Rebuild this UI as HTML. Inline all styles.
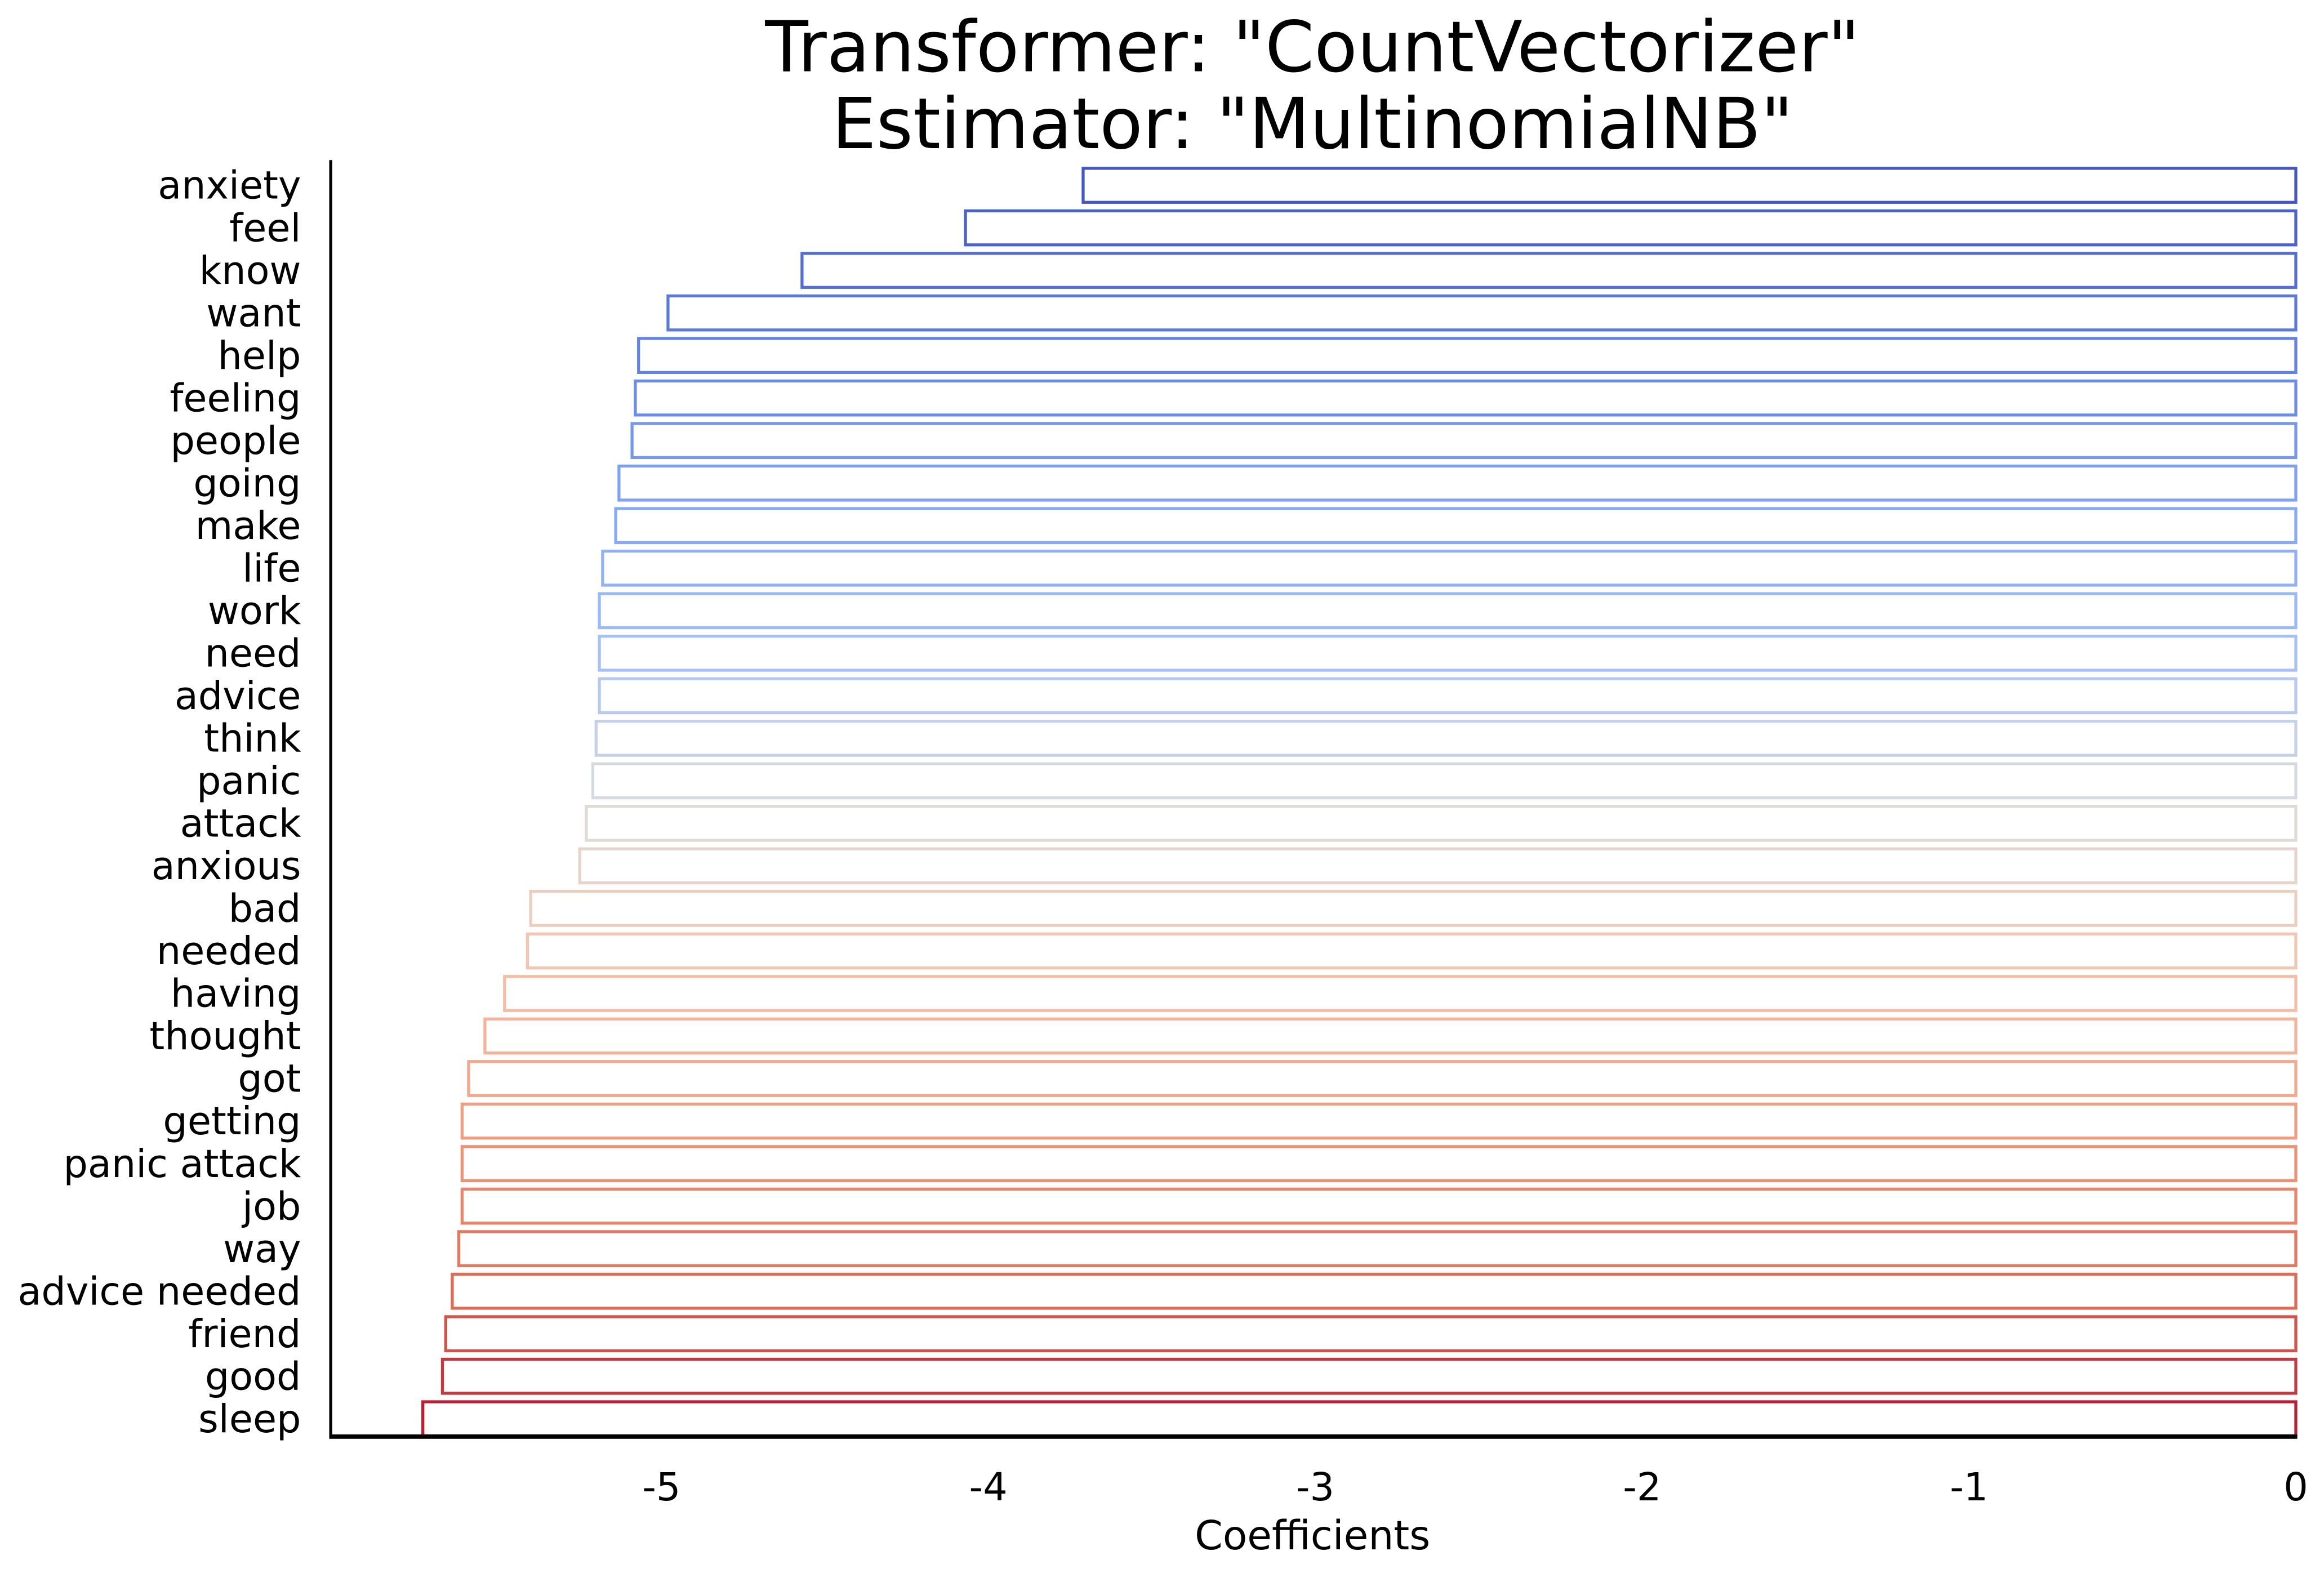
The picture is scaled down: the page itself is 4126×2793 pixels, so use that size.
<!DOCTYPE html>
<html><head><meta charset="utf-8"><style>
html,body{margin:0;padding:0;background:#fff}
svg{display:block}
text{font-family:"DejaVu Sans","Liberation Sans",sans-serif;fill:#000}
</style></head><body>
<svg id="chart" width="4126" height="2793" viewBox="0 0 1567 1061" preserveAspectRatio="none" xmlns="http://www.w3.org/2000/svg">
<rect width="1567" height="1061" fill="#fff"/>
<text x="885" y="48" font-size="47.5" text-anchor="middle">Transformer: "CountVectorizer"</text>
<text x="885" y="100" font-size="47.5" text-anchor="middle">Estimator: "MultinomialNB"</text>
<g id="bars"></g>
<g id="yticks"></g>
<g id="xticks"></g>
<line x1="223" y1="108" x2="223" y2="970" stroke="#000" stroke-width="2"/>
<line x1="222" y1="969" x2="1549" y2="969" stroke="#000" stroke-width="3"/>
<text x="885" y="1045" font-size="27" text-anchor="middle">Coefficients</text>
</svg>
<script>
const categories = ["anxiety","feel","know","want","help","feeling","people","going","make","life","work","need","advice","think","panic","attack","anxious","bad","needed","having","thought","got","getting","panic attack","job","way","advice needed","friend","good","sleep"];
const coefficients = [-3.71,-4.07,-4.57,-4.98,-5.07,-5.08,-5.09,-5.13,-5.14,-5.18,-5.19,-5.19,-5.19,-5.20,-5.21,-5.23,-5.25,-5.40,-5.41,-5.48,-5.54,-5.59,-5.61,-5.61,-5.61,-5.62,-5.64,-5.66,-5.67,-5.73];
const xTickValues = [-5,-4,-3,-2,-1,0];
const xTickLabels = ["-5","-4","-3","-2","-1","0"];

const NS = "http://www.w3.org/2000/svg";
const xScale = v => 1548 + v * 220.4;
const rowStep = (957 - 125) / 29;
const yScale = i => 125 + i * rowStep;
const stops = [[0,[59,76,192]],[0.125,[89,119,227]],[0.25,[123,159,249]],[0.375,[158,190,255]],[0.5,[221,221,221]],[0.625,[245,196,172]],[0.75,[244,154,123]],[0.875,[226,105,82]],[1,[180,4,38]]];
function coolwarm(t){
  for(let k=0;k<stops.length-1;k++){
    const a=stops[k],b=stops[k+1];
    if(t<=b[0]){const f=(t-a[0])/(b[0]-a[0]);
      return "rgb("+a[1].map((c,j)=>Math.round(c+(b[1][j]-c)*f)).join(",")+")";}
  }
  return "rgb(180,4,38)";
}
const bars=document.getElementById("bars"), yt=document.getElementById("yticks"), xt=document.getElementById("xticks");
const h = rowStep*0.8;
categories.forEach((c,i)=>{
  const v=coefficients[i], x0=xScale(v), x1=xScale(0), yc=yScale(i);
  const r=document.createElementNS(NS,"rect");
  r.setAttribute("x",Math.min(x0,x1)); r.setAttribute("y",yc-h/2);
  r.setAttribute("width",Math.abs(x1-x0)); r.setAttribute("height",h);
  r.setAttribute("fill","none"); r.setAttribute("stroke",coolwarm(0.03+0.94*i/(categories.length-1)));
  r.setAttribute("stroke-width","2");
  
  
  bars.appendChild(r);
  const t=document.createElementNS(NS,"text");
  t.setAttribute("x",203); t.setAttribute("y",yc+9); t.setAttribute("font-size","26");
  t.setAttribute("text-anchor","end"); t.textContent=c;
  
  
  yt.appendChild(t);
});
xTickValues.forEach((v,i)=>{
  const t=document.createElementNS(NS,"text");
  t.setAttribute("x",xScale(v)); t.setAttribute("y",1012); t.setAttribute("font-size","26");
  t.setAttribute("text-anchor","middle"); t.textContent=xTickLabels[i];
  
  
  xt.appendChild(t);
});
</script>
</body></html>
